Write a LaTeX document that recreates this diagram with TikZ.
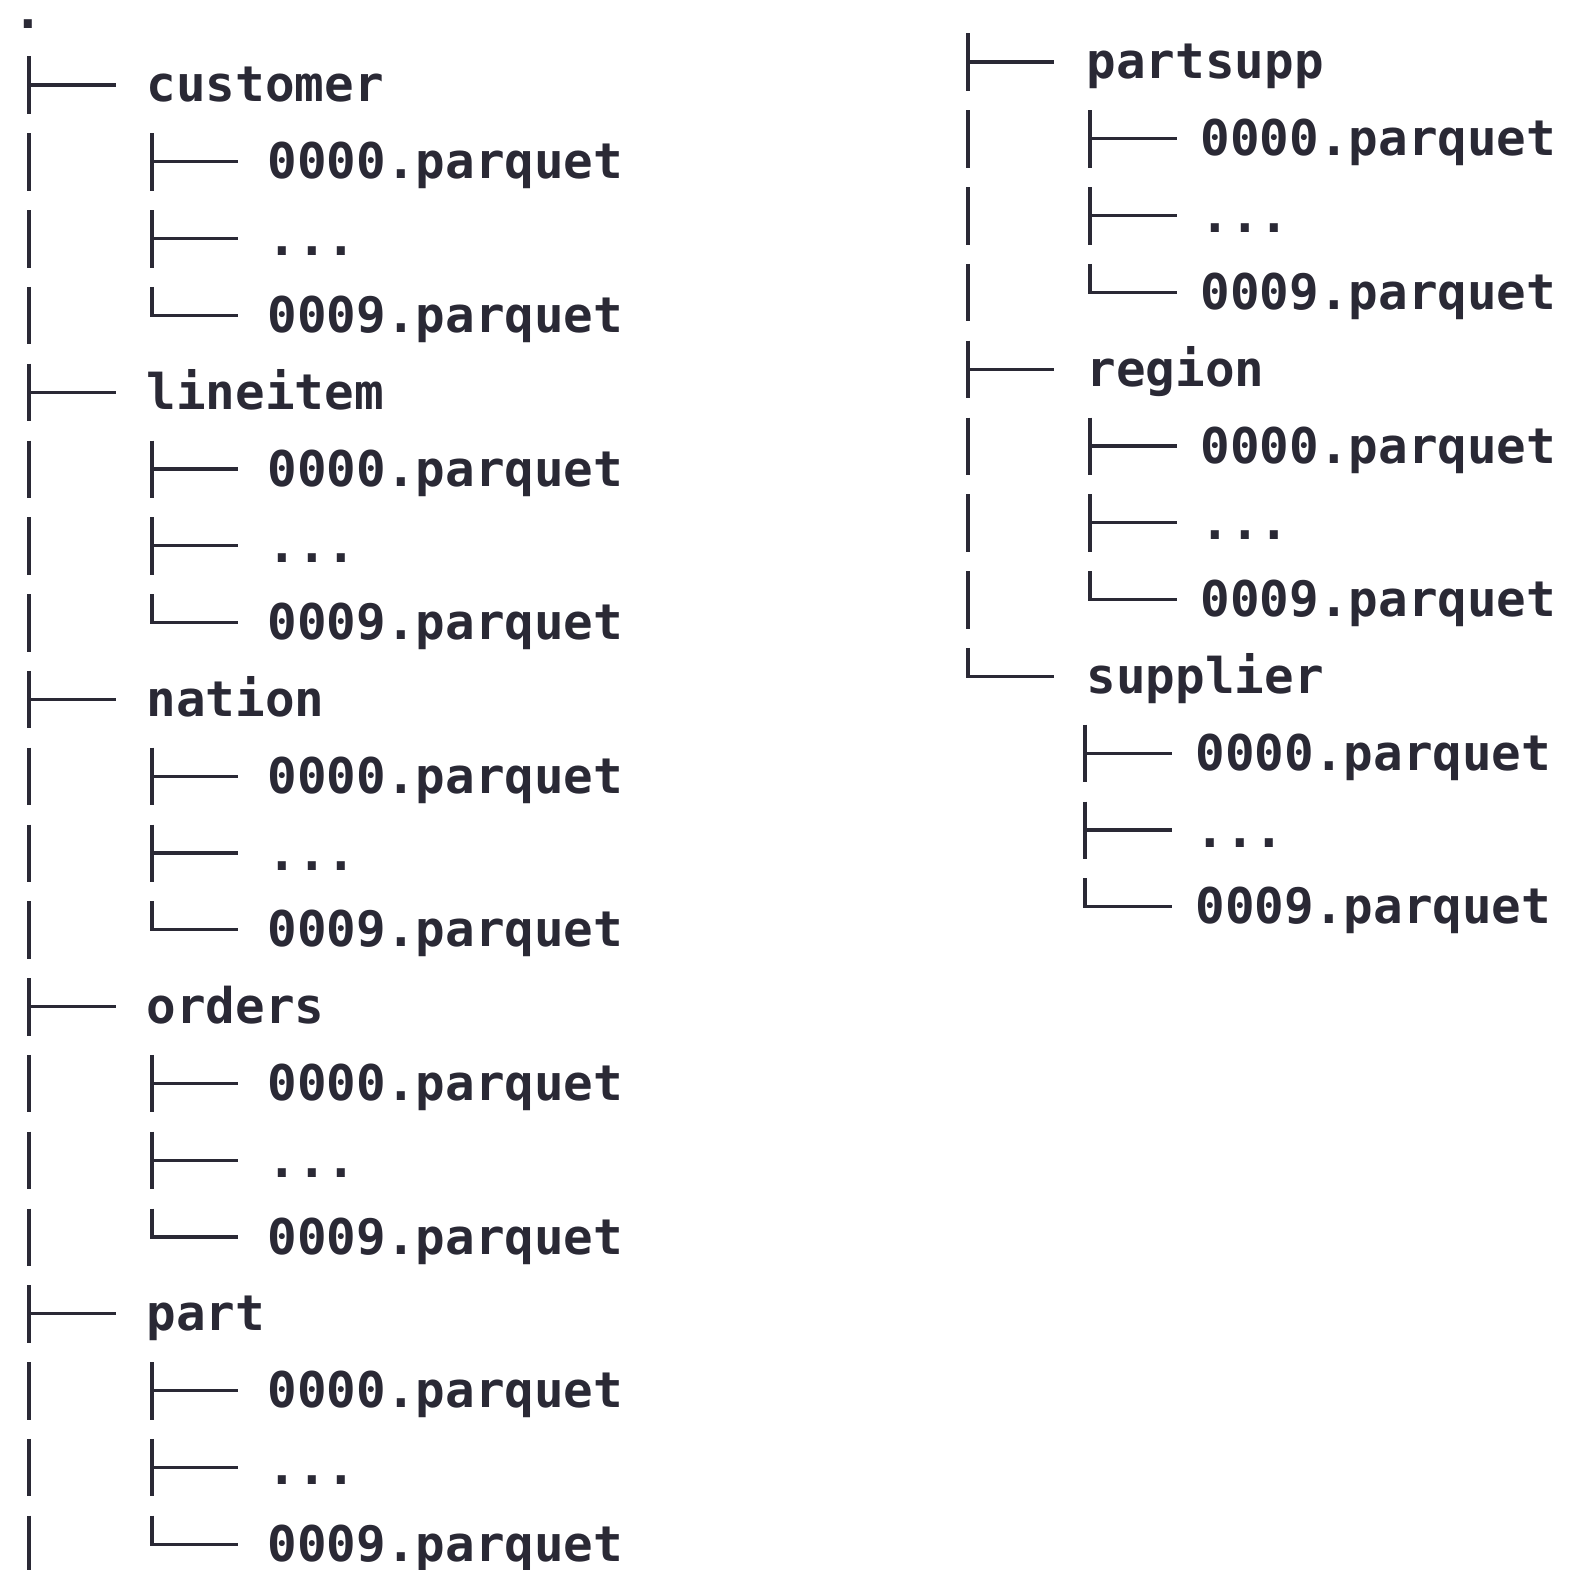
\documentclass[tikz,border=0pt]{standalone}
\usepackage{fontspec}
\setmonofont{DejaVu Sans Mono}

\definecolor{ink}{HTML}{2A2935}

\tikzset{
  entry/.style={anchor=base west, inner sep=0pt, text=ink,
    font=\ttfamily\bfseries\fontsize{14}{16}\selectfont},
  branch/.style={draw=ink, line width=0.32mm},
}
\newcommand{\rowsep}{76.8}
\newcommand{\morefiles}{...}

\begin{document}
\begin{tikzpicture}[x=0.1mm, y=-0.1mm]
\useasboundingbox (0,0) rectangle (1575,1569);
\clip (0,0) rectangle (1575,1569);

% root of the tree
\node[entry] (root) at (12.5,29) {.};

% left column: five tables with three files each
\foreach \dirname [count=\i from 0] in {customer,lineitem,nation,orders,part} {
  \pgfmathsetmacro\h{85+4*\i*\rowsep}
  \coordinate (\dirname-stem) at (29,\h);
  \node[entry] (\dirname) at (146,\h+17) {\dirname};
  \draw[branch] (\dirname-stem) ++(0,-28.5) -- ++(0,57.5);
  \draw[branch] (\dirname-stem) -- ++(87,0);
  \foreach \f/\lbl [count=\j] in {0/0000.parquet,d/\morefiles,9/0009.parquet} {
    \pgfmathsetmacro\k{\h+\j*\rowsep}
    \coordinate (\dirname-\f-stem) at (152,\k);
    \node[entry] (\dirname-\f) at (267,\k+17) {\lbl};
    % trunk keeps going past the files
    \draw[branch] (\dirname-stem |- \dirname-\f-stem) ++(0,-28.5) -- ++(0,57.5);
    \ifnum\j=3
      \draw[branch] (\dirname-\f-stem) ++(0,-28.5) |- ++(86,28.5);
    \else
      \draw[branch] (\dirname-\f-stem) ++(0,-28.5) -- ++(0,57.5);
      \draw[branch] (\dirname-\f-stem) -- ++(86,0);
    \fi
  }
}

% right column: the tree goes on
\foreach \dirname/\kx/\kt [count=\i from 0] in {partsupp/1090/1200,region/1090/1200,supplier/1085/1195} {
  \pgfmathsetmacro\h{62+4*\i*\rowsep}
  \coordinate (\dirname-stem) at (968,\h);
  \node[entry] (\dirname) at (1086,\h+17) {\dirname};
  \ifnum\i=2
    \draw[branch] (\dirname-stem) ++(0,-28.5) |- ++(86,28.5);
  \else
    \draw[branch] (\dirname-stem) ++(0,-28.5) -- ++(0,57.5);
    \draw[branch] (\dirname-stem) -- ++(86,0);
  \fi
  \foreach \f/\lbl [count=\j] in {0/0000.parquet,d/\morefiles,9/0009.parquet} {
    \pgfmathsetmacro\k{\h+\j*\rowsep}
    \coordinate (\dirname-\f-stem) at (\kx,\k);
    \node[entry] (\dirname-\f) at (\kt,\k+17) {\lbl};
    \ifnum\i<2
      \draw[branch] (\dirname-stem |- \dirname-\f-stem) ++(0,-28.5) -- ++(0,57.5);
    \fi
    \ifnum\j=3
      \draw[branch] (\dirname-\f-stem) ++(0,-28.5) |- ++(87,28.5);
    \else
      \draw[branch] (\dirname-\f-stem) ++(0,-28.5) -- ++(0,57.5);
      \draw[branch] (\dirname-\f-stem) -- ++(87,0);
    \fi
  }
}

\end{tikzpicture}
\end{document}
